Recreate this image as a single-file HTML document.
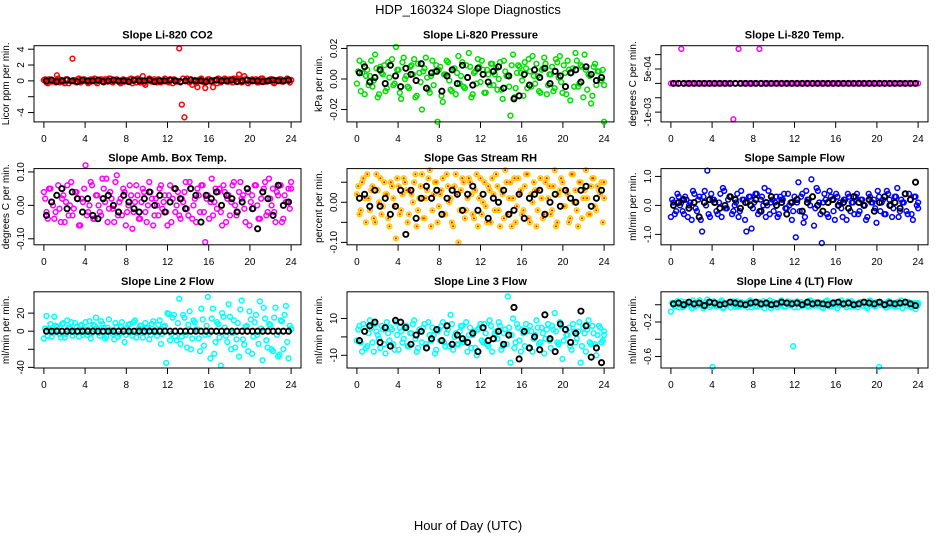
<!DOCTYPE html>
<html><head><meta charset="utf-8"><style>
body{margin:0;background:#fff}
svg{display:block;font-family:"Liberation Sans",Arial,sans-serif}
</style></head><body>
<svg id="c" width="936" height="540" viewBox="0 0 936 540">
<rect width="936" height="540" fill="#fff"/>
<text x="468" y="14" font-size="13" text-anchor="middle">HDP_160324  Slope Diagnostics</text>
<text x="468" y="530" font-size="13" text-anchor="middle">Hour of Day (UTC)</text>
</svg>
<script>
const xTicks=[0,4,8,12,16,20,24];
const titles=["Slope Li-820 CO2","Slope Li-820 Pressure","Slope Li-820 Temp.","Slope Amb. Box Temp.","Slope Gas Stream RH","Slope Sample Flow","Slope Line 2 Flow","Slope Line 3 Flow","Slope Line 4 (LT) Flow"];
const yLabels=["Licor ppm per min.","kPa per min.","degrees C per min.","degrees C per min.","percent per min.","ml/min per min.","ml/min per min.","ml/min per min.","ml/min per min."];
const colors=["#ff0000","#00dd00","#ff00ff","#ff00ff","#ffc800","#0000ff","#00ffff","#00ffff","#00ffff"];
const yRanges=[[-5.18,4.44],[-0.0281,0.0218],[-0.00134,0.00131],[-0.118,0.11],[-0.106,0.084],[-1.36,1.27],[-40.7,43.6],[-16.9,24.5],[-0.733,0.15]];
const yTicks=[[-4,-2,0,2,4],[-0.02,0,0.02],[-0.001,-0.0005,0,0.0005,0.001],[-0.1,0,0.1],[-0.1,-0.05,0,0.05],[-1,0,1],[-40,-20,0,20],[-10,0,10],[-0.6,-0.4,-0.2,0]];
const yTickLabels=[["-4","","0","2","4"],["-0.02","0.00","0.02"],["-1e-03","","","5e-04",""],["-0.10","0.00","0.10"],["-0.10","","0.00",""],["-1.0","0.0","1.0"],["-40","","0","20"],["-10","","10"],["-0.6","","-0.2",""]];
const colVals=[
[0.1,-0.2,0.2,-0.1,0,0.7,-0.2,0.1,-0.3,0.2,0,2.8,-0.1,0.2,-0.2,0.1,0,-0.3,0.2,0.1,-0.1,0,0.2,-0.2,0.1,0.3,-0.1,0,0.2,-0.2,0.1,-0.1,0,0.2,-0.3,0.1,0.3,-0.2,0.6,-0.5,0.1,0.2,-0.1,0,0.2,-0.2,0.1,0,-0.2,0.1,0.2,-0.1,4.1,-3.0,-4.6,0.3,-0.2,-0.5,0.1,-0.8,0.2,0,-0.9,0.2,-0.1,-0.8,0.1,0.3,-0.2,0,0.2,-0.1,0.1,0.3,0.2,0.8,-0.2,0.6,0.1,-0.1,0.2,0,-0.2,0.1,0.3,-0.1,0,0.2,-0.2,0.1,0,0.2,-0.1,0.1,0,0.1],
[-0.003,0.012,0.004,-0.01,0.006,0.002,-0.005,0.016,-0.012,0.008,0.003,-0.008,0.011,0.009,-0.004,0.021,0.006,-0.013,0.014,0.002,-0.006,0.009,0.013,-0.011,0.004,-0.02,0.007,0.001,-0.009,0.012,0.005,-0.028,0.008,-0.015,0.003,0.011,-0.007,0.006,-0.01,0.015,0.002,-0.005,0.009,0.017,-0.012,0.004,-0.003,0.008,0.012,-0.009,0.006,-0.004,0.01,0.003,-0.007,0.011,-0.013,0.005,0.002,-0.024,0.016,-0.006,0.009,0.004,-0.011,0.007,0.013,-0.005,0.002,0.01,-0.008,0.006,0.014,-0.01,0.003,0.008,-0.006,0.011,0.015,-0.009,0.004,0.012,-0.014,0.007,0.017,-0.005,0.009,-0.012,0.006,0.003,-0.016,0.008,-0.004,0.005,-0.001,-0.028],
[0,0,0,0,0.0012,0,0,0,0,0,0,0,0,0,0,0,0,0,0,0,0,0,0,0,-0.00125,0,0.0012,0,0,0,0,0,0,0,0.0012,0,0,0,0,0,0,0,0,0,0,0,0,0,0,0,0,0,0,0,0,0,0,0,0,0,0,0,0,0,0,0,0,0,0,0,0,0,0,0,0,0,0,0,0,0,0,0,0,0,0,0,0,0,0,0,0,0,0,0,0,0],
[0.04,-0.02,0.05,0.01,-0.04,0.03,-0.01,0.02,-0.05,0.06,0,-0.03,0.04,0.02,-0.06,0.01,0.12,-0.02,0.07,-0.04,0.03,0,-0.03,0.05,0.08,-0.01,0.02,-0.05,0.09,0.01,-0.03,0.04,-0.02,0.06,-0.07,0.01,0.03,-0.04,0.05,-0.02,0,0.04,-0.06,0.02,-0.03,0.06,0.01,-0.02,0.03,-0.05,0.05,0,-0.03,0.02,0.04,-0.01,0.07,-0.04,0.02,0.05,-0.02,0.06,-0.11,0.03,0.01,-0.03,0.05,0.04,-0.02,0.06,-0.05,0.03,0.01,0.07,-0.03,0.04,0.02,-0.01,0.05,-0.06,0.03,0.06,0,-0.04,0.04,0.07,-0.02,0.02,0.05,-0.05,0.03,0.06,-0.04,0.01,0.05,0.07],
[0.02,-0.03,0.05,0.01,0.07,-0.02,0.04,-0.05,0.03,0.06,-0.01,0.02,-0.04,0.05,0.01,-0.09,0.04,-0.02,0.06,0.03,-0.03,0.02,0.05,-0.06,0.01,0.07,-0.04,0.03,0.08,-0.02,0.05,-0.05,0.02,0.06,-0.03,0.04,0.01,-0.06,0.07,-0.1,0.03,0.05,-0.02,0.06,0.02,-0.04,0.07,0.01,-0.03,0.05,-0.05,0.03,0.06,-0.02,0.04,-0.06,0.02,0.08,-0.03,0.05,0.01,-0.05,0.06,0.03,-0.02,0.07,-0.04,0.02,0.05,-0.06,0.03,0.01,-0.03,0.06,0.04,-0.02,0.08,-0.05,0.03,0.05,-0.01,0.02,-0.04,0.07,0.03,-0.06,0.05,0.01,0.08,-0.03,0.04,0.06,-0.02,0.03,0.05,0.01],
[-0.4,0.1,-0.2,0.3,0.1,-0.3,0.2,0,-0.5,0.4,-0.2,0.3,-0.9,0.5,1.2,-0.4,0.2,0.1,-0.3,0.4,0.6,-0.1,0.2,0.3,-0.2,0.1,-0.4,0.5,0.2,-0.9,0.3,-0.8,0.1,0.4,-0.2,0.3,0.6,0,-0.3,0.2,0.1,-0.4,0.3,0.2,-0.1,0.4,0.1,-0.2,-1.1,0.8,0.3,-0.6,0.5,0.2,0.9,-0.7,0.6,0.1,-1.3,0.4,-0.3,0.5,0.2,-0.5,0.3,0.1,-0.4,0.2,0.4,-0.2,0.1,0.3,-0.3,0.2,0,-0.5,0.4,0.1,0.2,-0.6,0.3,0.1,-0.3,0.5,0.2,-0.4,0.3,0.6,-0.2,0.1,0.4,-0.3,0.2,-0.5,0.3,0.1],
[-8,17,2,-6,16,5,-3,8,-7,12,3,-5,9,-1,6,-4,10,2,-8,7,15,-2,11,4,-6,13,1,-9,5,-3,10,-12,4,8,-5,12,-2,6,-7,9,3,-4,11,-1,7,-14,5,-35,19,-3,18,-10,36,-6,15,-18,22,-8,10,2,-22,13,-4,38,-30,25,-12,8,-38,16,-5,30,-20,12,-9,-28,34,-15,6,22,-25,10,-4,33,-32,14,-18,7,-22,26,-28,12,-20,28,-30,3],
[-2,6,-8,3,-5,9,-3,7,1,-6,4,-9,2,5,-4,8,-7,3,-1,6,-5,2,9,-8,4,-3,7,-6,1,5,-9,3,-2,8,-5,4,12,-7,2,-4,6,-3,8,1,-6,3,-10,5,-2,7,-4,9,-8,2,-1,6,-5,4,22,-14,10,-3,5,-8,2,7,-6,3,-1,9,-4,5,-9,4,-2,6,13,-3,8,-12,4,1,-5,7,-3,3,-14,5,-8,9,-4,2,-10,6,-3,1],
[-0.08,0,0.02,-0.03,0.04,-0.02,0.01,0.03,-0.04,0.02,-0.01,0.05,0.01,-0.02,0.06,-0.03,-0.72,0.02,-0.01,0.03,-0.04,0.01,0.02,-0.03,0.04,0,-0.02,0.03,-0.01,0.02,0.04,-0.03,0.01,-0.02,0.03,0,-0.04,0.02,0.05,-0.01,0.01,-0.03,0.03,0.02,-0.02,0.04,-0.01,-0.48,0.02,-0.03,0.03,0,0.01,-0.02,0.04,-0.01,0.02,0.03,-0.03,0.01,0.05,-0.02,0.01,0.03,-0.04,0.02,0,-0.01,0.04,-0.02,0.02,0.01,-0.03,0.03,0.02,-0.02,0.04,0,-0.01,0.03,-0.72,0.02,0.01,-0.03,0.04,0,-0.02,0.03,0.01,-0.04,0.02,0.03,-0.02,0.01,-0.05,0.02]
];
const colVals2=[
[0.2,-0.3,0.1,0,-0.2,0.3,0.1,-0.1,0.2,-0.3,0,0.1,-0.2,0.3,-0.1,0.2,0,-0.2,0.1,0.3,-0.3,0.1,0,0.2,-0.1,0.3,-0.2,0.1,0,-0.3,0.2,0.1,-0.1,0.3,0,-0.2,0.2,0.1,-0.3,0,0.3,-0.1,0.2,-0.2,0.1,0,0.3,-0.1,0.2,-0.3,0.1,0,-0.2,0.3,0.1,-0.1,0.2,0,-0.3,0.1,0.3,-0.2,0,0.2,-0.1,0.1,-0.3,0.2,0,0.3,-0.1,0.2,-0.2,0.1,0.3,0,-0.1,0.2,-0.3,0.1,0,0.2,-0.2,0.3,0.1,-0.1,0,0.2,-0.3,0.1,0.2,-0.1,0,0.3,-0.2,0.1],
[0.005,-0.008,0.01,0.002,-0.004,0.012,-0.001,0.007,-0.01,0.004,0.009,-0.006,0.001,0.013,-0.003,0.006,-0.009,0.011,0,-0.005,0.008,0.003,-0.012,0.01,-0.002,0.005,0.014,-0.007,0.002,-0.004,0.009,0.006,-0.011,0.003,0.012,-0.001,-0.008,0.007,0.004,-0.003,0.011,-0.006,0.001,0.008,-0.01,0.005,0.013,-0.002,0.006,-0.009,0.003,0.01,-0.004,0.007,0,-0.007,0.012,0.002,-0.005,0.009,-0.012,0.004,0.008,-0.001,0.011,-0.006,0.005,0.015,-0.003,0.002,-0.009,0.007,0.01,-0.004,0.003,-0.008,0.013,0.001,-0.002,0.009,-0.01,0.006,0.004,-0.005,0.012,-0.003,0.008,0.016,-0.007,0.002,-0.011,0.01,0.005,-0.001,0.006,-0.004],
null,
[0.02,-0.04,0.05,0,-0.02,0.06,-0.05,0.03,0.01,-0.03,0.07,-0.01,0.04,-0.06,0.02,0.05,-0.03,0,0.06,-0.04,0.03,-0.02,0.08,0.01,-0.05,0.04,-0.01,0.07,-0.03,0.02,0.05,-0.06,0,0.03,-0.02,0.06,-0.04,0.01,0.04,-0.05,0.07,0.02,-0.03,0,0.05,-0.01,0.03,-0.06,0.06,0.02,-0.02,0.04,-0.04,0.01,0.07,-0.03,0.05,0,-0.05,0.03,0.06,-0.02,0.02,-0.04,0.08,0.01,-0.01,0.05,-0.06,0.04,0.02,-0.03,0.06,0,-0.02,0.07,0.03,-0.05,0.04,0.01,-0.01,0.06,-0.04,0.02,0.05,-0.03,0.08,0,-0.02,0.04,0.06,-0.05,0.03,0.01,-0.01,0.05],
[0.04,-0.02,0.06,-0.05,0.01,0.03,-0.04,0.07,0,-0.03,0.05,0.02,-0.06,0.04,-0.01,0.06,-0.03,0.02,0.05,-0.05,0.03,0,0.07,-0.02,0.04,-0.04,0.01,0.06,-0.06,0.02,0.05,-0.01,0.03,-0.03,0.07,0,-0.05,0.04,0.02,-0.02,0.06,-0.04,0.01,0.05,-0.03,0.03,-0.06,0.06,0,-0.01,0.04,-0.05,0.02,0.07,-0.02,0.03,-0.04,0.05,0.01,-0.06,0.06,-0.01,0.02,-0.03,0.04,0.07,-0.05,0,0.03,-0.02,0.06,-0.04,0.05,0.01,-0.03,0.04,-0.06,0.02,0.06,-0.01,0.03,-0.05,0.07,0,-0.02,0.05,-0.04,0.03,0.01,-0.03,0.06,-0.01,0.04,0.02,-0.05,0.05],
[0.2,-0.3,0.4,0,-0.2,0.3,-0.4,0.1,0.5,-0.1,0.2,-0.5,0.3,0,-0.3,0.4,0.2,-0.2,0.1,-0.4,0.5,-0.1,0.3,-0.3,0,0.4,-0.2,0.2,-0.5,0.1,0.3,-0.1,0.4,-0.3,0.2,0,-0.4,0.5,0.1,-0.2,0.3,-0.3,0.2,0.4,-0.1,0,-0.5,0.3,0.1,-0.2,0.4,-0.4,0.2,0,0.3,-0.1,0.5,-0.3,0.1,0.2,-0.4,0.3,-0.2,0.4,0,-0.1,0.2,-0.5,0.3,0.1,-0.3,0.4,-0.2,0.2,0,-0.4,0.3,0.1,-0.1,0.5,-0.2,0.2,-0.3,0.4,0,-0.1,0.3,-0.4,0.2,0.1,-0.2,0.4,-0.3,0.3,0,-0.1],
[3,-5,8,-2,6,1,-7,9,-3,4,10,-1,5,-6,7,2,-4,11,-2,6,3,-5,8,-8,4,1,-3,9,-6,5,2,-4,7,-1,10,-7,3,6,-2,4,-9,8,1,-5,12,-3,6,20,-10,15,-6,9,-14,18,-4,7,-20,12,2,-8,25,-16,6,-3,14,-25,10,-7,20,4,-12,16,-2,-18,9,24,-9,5,-22,13,-6,18,-14,3,26,-10,8,-20,15,-4,-26,11,18,-12,6,2],
[4,-3,7,-6,2,5,-8,3,-1,6,-4,8,-2,4,-7,1,5,-3,6,-5,2,7,-1,-6,3,5,-4,8,-2,1,-7,4,6,-3,2,-5,7,0,-4,3,6,-2,-8,5,1,-6,4,7,-3,2,-5,6,-1,3,8,-7,2,-4,5,1,-6,7,-2,4,-5,3,6,-8,1,5,-3,2,-1,7,-6,4,3,-4,6,-2,1,5,-7,3,-1,8,-5,2,4,-3,6,-4,1,5,-2,3],
[0.02,-0.02,0.04,0,-0.03,0.03,0.01,-0.01,0.05,-0.02,0.02,0,-0.04,0.03,0.01,-0.01,0.04,-0.02,0.02,0.05,-0.03,0,0.03,0.01,-0.02,0.04,-0.01,0.02,0,-0.03,0.05,0.01,-0.02,0.03,-0.01,0.04,0,0.02,-0.04,0.03,0.01,-0.01,0.05,-0.02,0.02,0,0.03,-0.03,0.04,0.01,-0.01,0.02,-0.02,0.05,0,0.03,-0.01,0.01,-0.04,0.04,0.02,-0.02,0.03,0,-0.01,0.05,0.01,-0.03,0.02,0.04,-0.02,0,0.03,-0.01,0.01,-0.04,0.05,0.02,-0.02,0.03,0,0.01,-0.03,0.04,-0.01,0.02,0,-0.02,0.05,0.01,-0.01,0.03,-0.03,0.02,0.01,0]
];
const blkVals=[
[0,0.1,-0.1,0,0.1,0,-0.1,0.1,0,0,0.1,-0.1,0,0.1,0,0,-0.1,0.1,0,0,0.1,-0.1,0,0,0.1,0,-0.1,0,0.1,0,0,-0.1,0,0.1,0,0,0.1,-0.1,0,0.1,0,0,-0.1,0,0.1,0,0,0.1],
[0.004,0.008,-0.002,0.001,0.006,-0.003,0.009,0.002,-0.005,0.007,0.003,-0.001,0.01,-0.006,0.004,0.005,-0.008,0.002,0.006,-0.003,0.009,0.001,-0.004,0.007,0.003,-0.002,0.005,0.008,-0.006,0.002,-0.013,-0.011,0.003,-0.004,0.006,0.001,0.007,-0.003,0.005,0.002,-0.005,0.004,0.006,-0.002,0.008,0.003,-0.001,0.001],
[0,0,0,0,0,0,0,0,0,0,0,0,0,0,0,0,0,0,0,0,0,0,0,0,0,0,0,0,0,0,0,0,0,0,0,0,0,0,0,0,0,0,0,0,0,0,0,0],
[-0.03,0.01,0.03,0.05,-0.01,0.04,0.02,-0.02,0.02,-0.03,-0.04,0.02,0.03,0,-0.02,0.03,0.01,-0.01,-0.02,0.02,0.04,0,0.03,-0.02,0.01,0.05,0.02,-0.01,0.05,0.03,-0.05,0.03,0.02,0.04,0,0.03,0.02,-0.02,0.01,0.05,-0.01,-0.07,0.04,0.02,-0.03,0.06,0,0.01],
[0.01,0.02,-0.01,0.03,-0.01,0.01,-0.03,-0.01,0.03,-0.08,0.03,-0.04,0.01,0.04,0.01,0.03,-0.03,0.01,0.03,0.02,-0.02,0.02,0.04,-0.02,0.02,-0.04,0.01,0,0.03,-0.03,-0.02,0.02,-0.04,0.01,0.02,0.03,-0.03,0,0.02,-0.01,0.03,0.01,0,0.03,0.04,-0.01,0.01,0.03],
[0,0.1,0.2,-0.1,0.1,-0.4,0.1,0.2,0.1,-0.1,0,0.3,0.2,-0.1,0.1,0,0.2,-0.2,0.1,0.3,0,0.1,-0.3,0.1,0.2,-0.2,0.1,0.3,0,-0.2,0.1,0.2,0,0.1,-0.1,0.3,0.1,0,0.2,-0.2,0.1,0.3,0,0.1,-0.1,0.4,0.2,0.8],
[0,0,0,0,0,0,0,0,0,0,0,0,0,0,0,0,0,0,0,0,0,0,0,0,0,0,0,0,0,0,0,0,0,0,0,0,0,0,0,0,0,0,0,0,0,0,0,0],
[-2,3,6,8,-3,5,-5,9,8,5,-4,1,3,-6,-1,4,-2,6,-4,1,-1,-3,2,-8,5,-2,-1,3,-4,1,16,-12,3,-6,0,-7,12,-1,-8,7,4,-3,2,14,6,-11,-6,-14],
[0.01,0.02,0,0.03,0.01,0.02,-0.01,0.03,0.02,0,0.01,0.03,0.02,0.01,0,0.02,0.03,0.01,0.02,0,0.01,0.03,0.02,0.01,0.02,0,0.03,0.01,0.02,0.01,0,0.02,0.03,0.01,0.02,0,0.01,0.03,0.02,0.01,0.03,0,0.02,0.01,0.02,0.03,0.01,-0.01]
];
const svg=document.getElementById('c');
const NS='http://www.w3.org/2000/svg';
const colX=[34,347,661],colW=267,rowY=[45.7,168.6,291.8],rowH=76.2;
function mk(t,a,p){const e=document.createElementNS(NS,t);for(const k in a)e.setAttribute(k,a[k]);(p||svg).appendChild(e);return e;}
for(let p=0;p<9;p++){
  const L=colX[p%3],T=rowY[Math.floor(p/3)],B=T+rowH,R=L+colW;
  const [y0,y1]=yRanges[p];
  const sx=v=>L+(v+0.96)/25.92*colW;
  const sy=v=>B-(v-y0)/(y1-y0)*rowH;
  const g=mk('g',{});
  
  
  const t=mk('text',{x:(L+R)/2,y:T-7,'font-size':11,'font-weight':'bold','text-anchor':'middle'},g);
  t.textContent=titles[p];
  
  
  const yl=mk('text',{x:0,y:0,'font-size':10,'text-anchor':'middle',transform:`translate(${L-25},${(T+B)/2}) rotate(-90)`},g);
  yl.textContent=yLabels[p];
  
  
  xTicks.forEach(v=>{
    const x=sx(v);
    const tk=mk('line',{x1:x,x2:x,y1:B,y2:B+6,stroke:'#000','stroke-width':1},g);
    
    
    const tl=mk('text',{x:x,y:B+20,'font-size':10,'text-anchor':'middle'},g);
    tl.textContent=v;
    
    
  });
  yTicks[p].forEach((v,i)=>{
    const y=sy(v);
    const tk=mk('line',{x1:L-6,x2:L,y1:y,y2:y,stroke:'#000','stroke-width':1},g);
    
    
    if(yTickLabels[p][i]){
      const tl=mk('text',{x:0,y:0,'font-size':10,'text-anchor':'middle',transform:`translate(${L-10},${y}) rotate(-90)`},g);
      tl.textContent=yTickLabels[p][i];
      
      
    }
  });
  function drawSet(arr,off){
    const n=arr.length;
    arr.forEach((v,i)=>{
      const x=sx(Math.min(24,i*24/(n-1)+off));
      const c=mk('circle',{cx:x,cy:sy(v),r:2.4,fill:'none',stroke:colors[p],'stroke-width':1.5},g);
      
      
      if(p===4){const d=mk('circle',{cx:x,cy:sy(v),r:1.1,fill:'#ff2000'},g);
        
        }
    });
  }
  drawSet(colVals[p],0);
  if(colVals2[p]) drawSet(colVals2[p],0.125);
  const bv=blkVals[p],m=bv.length;
  bv.forEach((v,i)=>{
    const c=mk('circle',{cx:sx(0.25+i*23.5/(m-1)),cy:sy(v),r:2.6,fill:'none',stroke:'#000','stroke-width':1.9},g);
    
    
  });
  const box=mk('rect',{x:L,y:T,width:colW,height:rowH,fill:'none',stroke:'#000','stroke-width':1},g);
  
  
}
</script>
</body></html>
